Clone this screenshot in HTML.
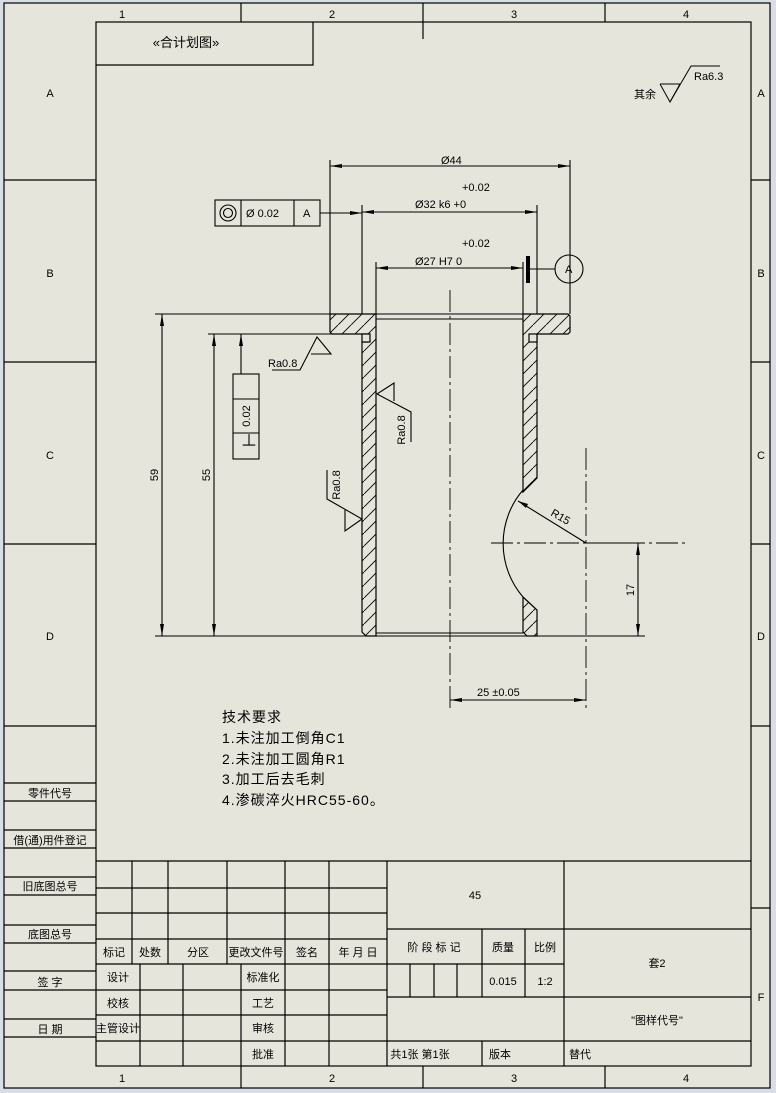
<!DOCTYPE html>
<html><head><meta charset="utf-8"><style>
html,body{margin:0;padding:0;background:#d9dde6;}
svg{display:block;}
text{font-family:"Liberation Sans","Noto Sans CJK SC",sans-serif;fill:#000;}
.s{font-size:11px;}
.t{font-size:14px;letter-spacing:1px;}
</style></head><body>
<svg width="776" height="1093" viewBox="0 0 776 1093" xmlns="http://www.w3.org/2000/svg">
<defs>
<pattern id="h" width="13" height="13" patternUnits="userSpaceOnUse">
<path d="M-1 14 L14 -1" stroke="#000" stroke-width="0.9"/>
</pattern>
</defs>
<rect x="4" y="3" width="766" height="1085" fill="#e6e5dc" stroke="#000" stroke-width="1.2"/>
<g stroke="#000" stroke-width="1.2" fill="none">
<rect x="96" y="22" width="655" height="1044"/>
<line x1="241" y1="3" x2="241" y2="22"/><line x1="423" y1="3" x2="423" y2="39"/><line x1="605" y1="3" x2="605" y2="22"/>
<line x1="241" y1="1066" x2="241" y2="1088"/><line x1="423" y1="1066" x2="423" y2="1088"/><line x1="605" y1="1066" x2="605" y2="1088"/>
<line x1="4" y1="180" x2="96" y2="180"/><line x1="4" y1="362" x2="96" y2="362"/><line x1="4" y1="544" x2="96" y2="544"/><line x1="4" y1="726" x2="96" y2="726"/>
<line x1="751" y1="180" x2="770" y2="180"/><line x1="751" y1="362" x2="770" y2="362"/><line x1="751" y1="544" x2="770" y2="544"/><line x1="751" y1="726" x2="770" y2="726"/><line x1="751" y1="908" x2="770" y2="908"/>
<line x1="4" y1="783" x2="96" y2="783"/><line x1="4" y1="801" x2="96" y2="801"/>
<line x1="4" y1="830" x2="96" y2="830"/><line x1="4" y1="848" x2="96" y2="848"/>
<line x1="4" y1="877" x2="96" y2="877"/><line x1="4" y1="895" x2="96" y2="895"/>
<line x1="4" y1="925" x2="96" y2="925"/><line x1="4" y1="943" x2="96" y2="943"/>
<line x1="4" y1="971" x2="96" y2="971"/><line x1="4" y1="990" x2="96" y2="990"/>
<line x1="4" y1="1019" x2="96" y2="1019"/><line x1="4" y1="1037" x2="96" y2="1037"/>
<polyline points="96,65 313,65 313,22"/>
<line x1="96" y1="861" x2="751" y2="861"/>
<line x1="96" y1="888" x2="387" y2="888"/><line x1="96" y1="913" x2="387" y2="913"/>
<line x1="96" y1="939" x2="387" y2="939"/><line x1="96" y1="964" x2="564" y2="964"/>
<line x1="96" y1="990" x2="387" y2="990"/><line x1="96" y1="1015" x2="387" y2="1015"/>
<line x1="96" y1="1041" x2="751" y2="1041"/>
<line x1="387" y1="929" x2="751" y2="929"/><line x1="387" y1="997" x2="751" y2="997"/>
<line x1="132" y1="861" x2="132" y2="964"/><line x1="168" y1="861" x2="168" y2="964"/><line x1="227" y1="861" x2="227" y2="964"/>
<line x1="285" y1="861" x2="285" y2="1066"/><line x1="329" y1="861" x2="329" y2="1066"/><line x1="387" y1="861" x2="387" y2="1066"/>
<line x1="140" y1="964" x2="140" y2="1066"/><line x1="183" y1="964" x2="183" y2="1066"/><line x1="241" y1="964" x2="241" y2="1066"/>
<line x1="564" y1="861" x2="564" y2="1066"/>
<line x1="482" y1="929" x2="482" y2="997"/><line x1="525" y1="929" x2="525" y2="997"/>
<line x1="410" y1="964" x2="410" y2="997"/><line x1="434" y1="964" x2="434" y2="997"/><line x1="457" y1="964" x2="457" y2="997"/>
<line x1="482" y1="1041" x2="482" y2="1066"/>
</g>
<g class="s" text-anchor="middle">
<text x="122" y="18">1</text><text x="332" y="18">2</text><text x="514" y="18">3</text><text x="686" y="18">4</text>
<text x="122" y="1082">1</text><text x="332" y="1082">2</text><text x="514" y="1082">3</text><text x="686" y="1082">4</text>
<text x="50" y="97">A</text><text x="50" y="277">B</text><text x="50" y="459">C</text><text x="50" y="640">D</text>
<text x="761" y="97">A</text><text x="761" y="277">B</text><text x="761" y="459">C</text><text x="761" y="640">D</text><text x="761" y="1001">F</text>
<text x="186" y="47" font-size="13">«合计划图»</text>
<text x="50" y="797">零件代号</text><text x="50" y="844">借(通)用件登记</text><text x="50" y="890">旧底图总号</text>
<text x="50" y="938">底图总号</text><text x="50" y="986">签 字</text><text x="50" y="1033">日 期</text>
<text x="114" y="956">标记</text><text x="150" y="956">处数</text><text x="198" y="956">分区</text><text x="256" y="956">更改文件号</text><text x="307" y="956">签名</text><text x="358" y="956">年 月 日</text>
<text x="118" y="981">设计</text><text x="118" y="1007">校核</text><text x="118" y="1032">主管设计</text>
<text x="263" y="981">标准化</text><text x="263" y="1007">工艺</text><text x="263" y="1032">审核</text><text x="263" y="1058">批准</text>
<text x="475" y="899">45</text>
<text x="434" y="951">阶 段 标 记</text><text x="503" y="951">质量</text><text x="545" y="951">比例</text>
<text x="503" y="985">0.015</text><text x="545" y="985">1:2</text>
<text x="657" y="967">套2</text><text x="657" y="1024">"图样代号"</text>
<text x="420" y="1058">共1张 第1张</text><text x="500" y="1058">版本</text><text x="580" y="1058">替代</text>
</g>
<g stroke="#000" fill="none" stroke-width="1">
<polyline points="660,84 680,84 670,102 660,84"/><polyline points="670,102 691,66 720,66"/>
</g>
<text class="s" x="634" y="98">其余</text><text class="s" x="694" y="80">Ra6.3</text>

<g stroke="#000" stroke-width="1.2">
<path d="M330 314 H376 V636 H366 L362 632 V342 H368 V334 H332 L330 332 Z" fill="url(#h)"/>
<path d="M523 314 H568 L570 316 V332 L568 334 H537 V478 L523 492 V318 Z" fill="url(#h)"/>
<path d="M523 597 L537 610 V636 H527 L523 632 Z" fill="url(#h)"/>
<rect x="362" y="334" width="8" height="8" fill="#e6e5dc"/>
<rect x="529" y="334" width="8" height="8" fill="#e6e5dc"/>
</g>
<g stroke="#000" fill="none" stroke-width="1.1">
<line x1="376" y1="319" x2="523" y2="319"/>
<line x1="376" y1="633" x2="523" y2="633"/>
<line x1="155" y1="314" x2="330" y2="314"/>
<line x1="376" y1="314" x2="523" y2="314"/>
<line x1="155" y1="636" x2="645" y2="636"/>
<line x1="208" y1="334" x2="362" y2="334"/>
<path d="M523 490 A82 82 0 0 0 523 597"/>
<line x1="162" y1="314" x2="162" y2="636"/><line x1="214" y1="334" x2="214" y2="636"/>
<line x1="241" y1="334" x2="241" y2="374"/>
<rect x="233" y="374" width="26" height="85"/><line x1="233" y1="399" x2="259" y2="399"/><line x1="233" y1="433" x2="259" y2="433"/>
<line x1="330" y1="160" x2="330" y2="314"/><line x1="570" y1="160" x2="570" y2="314"/>
<line x1="330" y1="166" x2="570" y2="166"/>
<line x1="362" y1="205" x2="362" y2="314"/><line x1="537" y1="205" x2="537" y2="314"/>
<line x1="362" y1="212" x2="537" y2="212"/><line x1="320" y1="213" x2="362" y2="213"/>
<line x1="376" y1="262" x2="376" y2="314"/><line x1="523" y1="262" x2="523" y2="314"/>
<line x1="376" y1="268" x2="523" y2="268"/><line x1="527" y1="269" x2="555" y2="269"/>
<circle cx="569" cy="269" r="14"/>
<rect x="215" y="200" width="105" height="26"/><line x1="241" y1="200" x2="241" y2="226"/><line x1="294" y1="200" x2="294" y2="226"/>
<circle cx="228" cy="213" r="8"/><circle cx="228" cy="213" r="4.5"/>
<line x1="450" y1="290" x2="450" y2="708" stroke-dasharray="22,4,3,4" stroke-width="0.9"/>
<line x1="491" y1="543" x2="685" y2="543" stroke-dasharray="22,4,3,4" stroke-width="0.9"/>
<line x1="586" y1="448" x2="586" y2="708" stroke-dasharray="22,4,3,4" stroke-width="0.9"/>
<line x1="450" y1="700" x2="586" y2="700"/>
<line x1="638" y1="543" x2="638" y2="636"/><line x1="586" y1="543" x2="645" y2="543"/>
<line x1="586" y1="543" x2="518" y2="501"/>
<polyline points="272,370 300,370 317,337 331,354 311,354"/>
<polyline points="411,442 411,412 377,394 394,383 394,401"/>
<polyline points="327,470 327,499 362,519 345,531 345,510"/>
</g>
<rect x="526" y="256" width="4" height="27" fill="#000"/>
<g fill="#000">
<path d="M330 166 l12 -2 v4z"/><path d="M570 166 l-12 -2 v4z"/>
<path d="M362 212 l12 -2 v4z"/><path d="M537 212 l-12 -2 v4z"/><path d="M362 213 l-12 -2 v4z"/>
<path d="M376 268 l12 -2 v4z"/><path d="M523 268 l-12 -2 v4z"/>
<path d="M162 314 l-2 12 h4z"/><path d="M162 636 l-2 -12 h4z"/>
<path d="M214 334 l-2 12 h4z"/><path d="M214 636 l-2 -12 h4z"/><path d="M241 334 l-2 12 h4z"/>
<path d="M450 700 l12 -2 v4z"/><path d="M586 700 l-12 -2 v4z"/>
<path d="M638 543 l-2 12 h4z"/><path d="M638 636 l-2 -12 h4z"/>
<path d="M518 501 l10 3 l-2 4z"/>
</g>
<g class="s">
<text x="441" y="164">Ø44</text>
<text x="462" y="191">+0.02</text><text x="415" y="208">Ø32 k6 +0</text>
<text x="462" y="247">+0.02</text><text x="415" y="265">Ø27 H7  0</text>
<text x="246" y="217">Ø  0.02</text><text x="303" y="217">A</text>
<text x="565" y="273">A</text>
<text x="268" y="367">Ra0.8</text>
<text x="477" y="696">25 ±0.05</text>
<text transform="translate(158,475) rotate(-90)" text-anchor="middle">59</text>
<text transform="translate(210,475) rotate(-90)" text-anchor="middle">55</text>
<text transform="translate(634,590) rotate(-90)" text-anchor="middle">17</text>
<text transform="translate(405,430) rotate(-90)" text-anchor="middle">Ra0.8</text>
<text transform="translate(340,485) rotate(-90)" text-anchor="middle">Ra0.8</text>
<text transform="translate(250,416) rotate(-90)" text-anchor="middle">0.02</text>
<text transform="translate(550,515) rotate(30)">R15</text>
</g>
<text x="241" y="446" font-size="16">⊥</text>
<text class="t" x="222" y="722">技术要求</text>
<text class="t" x="222" y="743">1.未注加工倒角C1</text>
<text class="t" x="222" y="764">2.未注加工圆角R1</text>
<text class="t" x="222" y="784">3.加工后去毛刺</text>
<text class="t" x="222" y="805">4.渗碳淬火HRC55-60。</text>
</svg>
</body></html>
